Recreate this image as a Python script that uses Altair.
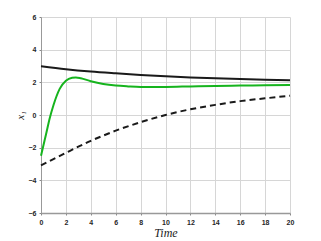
import altair as alt
import pandas as pd

t_black = [0, 2, 4, 6, 8, 10, 12, 14, 16, 18, 20]
y_black = [2.98, 2.8, 2.66, 2.55, 2.45, 2.37, 2.3, 2.25, 2.2, 2.16, 2.13]

t_green = [0, 0.15, 0.4, 0.7, 1.0, 1.5, 2.0, 2.5, 2.8, 3.2, 4.0, 5, 6, 7, 8, 10, 12, 14, 16, 18, 20]
y_green = [-2.5, -2.0, -1.2, -0.2, 0.6, 1.6, 2.1, 2.28, 2.3, 2.25, 2.07, 1.9, 1.8, 1.75, 1.72, 1.72, 1.75, 1.78, 1.8, 1.82, 1.84]

t_dash = [0, 1, 2, 3, 4, 5, 6, 8, 10, 12, 14, 16, 18, 20]
y_dash = [-3.08, -2.7, -2.32, -1.94, -1.58, -1.26, -0.96, -0.44, 0.0, 0.35, 0.62, 0.85, 1.02, 1.18]

x_ticks = list(range(0, 21, 2))
y_ticks = list(range(-6, 7, 2))

df_b = pd.DataFrame({"t": t_black, "v": y_black})
df_g = pd.DataFrame({"t": t_green, "v": y_green})
df_d = pd.DataFrame({"t": t_dash, "v": y_dash})

xs = alt.X("t:Q", scale=alt.Scale(domain=[0, 20], nice=False),
           axis=alt.Axis(values=x_ticks, title="Time", titleFont="Liberation Serif",
                         titleFontStyle="italic", titleFontWeight="normal", titleFontSize=12,
                         titleColor="#222", titlePadding=2,
                         labelFont="Liberation Sans", labelFontWeight="bold", labelFontSize=7,
                         labelColor="#262626", labelPadding=3, tickSize=2, tickColor="#888",
                         domainColor="#999", domainWidth=1.5, gridColor="#d6d6d6", labelFlush=False))
ys = alt.Y("v:Q", scale=alt.Scale(domain=[-6, 6], nice=False),
           axis=alt.Axis(values=y_ticks, title="x₁", titleFont="Liberation Serif",
                         titleFontStyle="italic", titleFontWeight="normal", titleFontSize=11,
                         titleColor="#222", titlePadding=3,
                         labelFont="Liberation Sans", labelFontWeight="bold", labelFontSize=7,
                         labelColor="#262626", labelPadding=3, tickSize=2, tickColor="#888",
                         domainColor="#999", domainWidth=1, gridColor="#d6d6d6", labelFlush=False))

black = alt.Chart(df_b).mark_line(color="#1a1a1a", strokeWidth=2, interpolate="monotone").encode(x=xs, y=ys)
green = alt.Chart(df_g).mark_line(color="#16b41e", strokeWidth=2, interpolate="monotone").encode(x=xs, y=ys)
dash = alt.Chart(df_d).mark_line(color="#1a1a1a", strokeWidth=2, strokeDash=[6, 4], interpolate="monotone").encode(x=xs, y=ys)

chart = alt.layer(black, dash, green).properties(
    width=249, height=196,
    autosize=alt.AutoSizeParams(type="none"),
    padding={"left": 33, "top": 9, "right": 12, "bottom": 30},
).configure_view(stroke=None)

chart.save("out.html", embed_options={"renderer": "svg", "actions": False})
